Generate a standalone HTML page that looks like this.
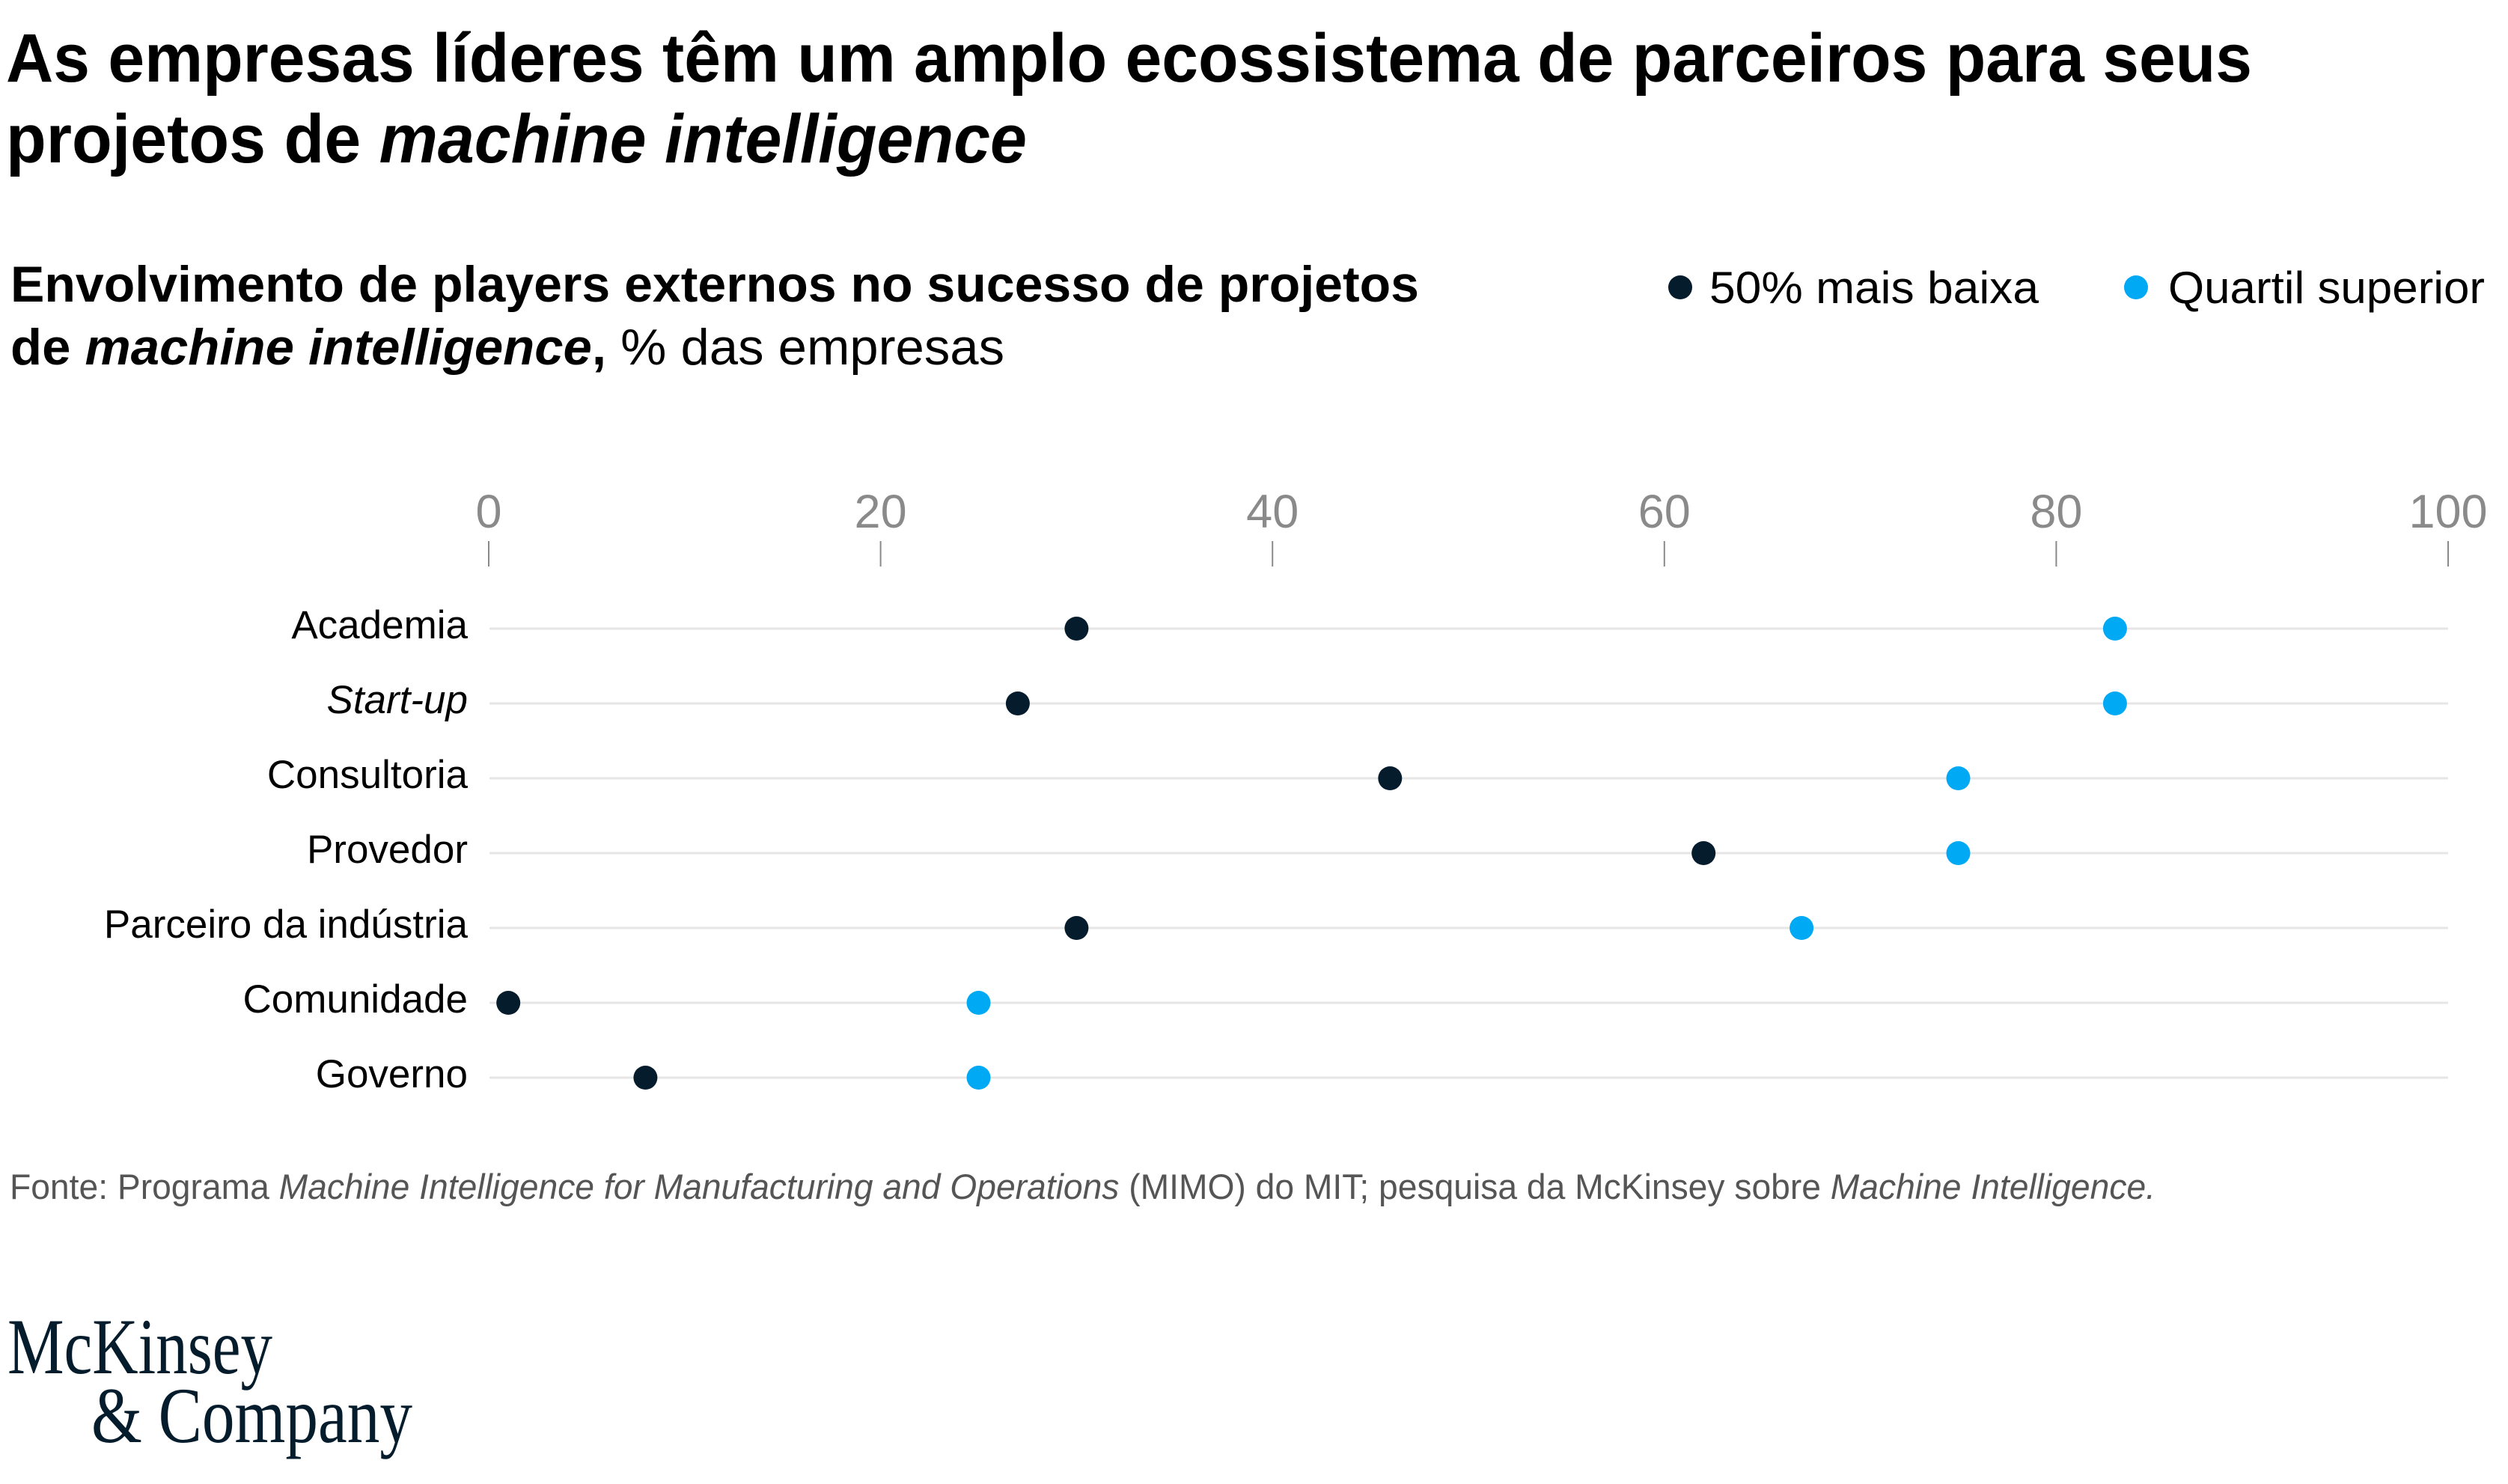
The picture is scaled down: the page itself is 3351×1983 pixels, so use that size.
<!DOCTYPE html>
<html>
<head>
<meta charset="utf-8">
<style>
  html, body { margin: 0; padding: 0; background: #ffffff; }
  svg { display: block; }
  text { font-family: "Liberation Sans", Arial, sans-serif; }
</style>
</head>
<body>
<svg xmlns="http://www.w3.org/2000/svg" width="3351" height="1983" viewBox="0 0 3351 1983">
  <rect x="0" y="0" width="3351" height="1983" fill="#ffffff"/>

  <!-- Title -->
  <text x="8" y="109" font-size="92" font-weight="bold" fill="#000" textLength="3001" lengthAdjust="spacingAndGlyphs">As empresas líderes têm um amplo ecossistema de parceiros para seus</text>
  <text x="8" y="217" font-size="92" font-weight="bold" fill="#000" textLength="1364" lengthAdjust="spacingAndGlyphs">projetos de <tspan font-style="italic">machine intelligence</tspan></text>

  <!-- Subtitle -->
  <text x="14" y="403" font-size="68" font-weight="bold" fill="#000" textLength="1882" lengthAdjust="spacingAndGlyphs">Envolvimento de players externos no sucesso de projetos</text>
  <text x="14" y="487" font-size="68" fill="#000" textLength="1328" lengthAdjust="spacingAndGlyphs"><tspan font-weight="bold">de </tspan><tspan font-weight="bold" font-style="italic">machine intelligence</tspan><tspan font-weight="bold">,</tspan> % das empresas</text>

  <!-- Legend -->
  <circle cx="2245" cy="384" r="16" fill="#051c2c"/>
  <text x="2284" y="405" font-size="60" fill="#000" textLength="440" lengthAdjust="spacingAndGlyphs">50% mais baixa</text>
  <circle cx="2854" cy="384" r="16" fill="#00a9f4"/>
  <text x="2897" y="405" font-size="60" fill="#000" textLength="423" lengthAdjust="spacingAndGlyphs">Quartil superior</text>

  <!-- Axis tick labels -->
  <g font-size="63" fill="#8a8a8a" text-anchor="middle">
    <text x="653" y="705">0</text>
    <text x="1176.6" y="705">20</text>
    <text x="1700.2" y="705">40</text>
    <text x="1723.8" y="705" fill="none"></text>
    <text x="2223.8" y="705">60</text>
    <text x="2747.4" y="705">80</text>
    <text x="3271" y="705">100</text>
  </g>
  <g stroke="#8a8a8a" stroke-width="2">
    <line x1="653" y1="723" x2="653" y2="757"/>
    <line x1="1176.6" y1="723" x2="1176.6" y2="757"/>
    <line x1="1700.2" y1="723" x2="1700.2" y2="757"/>
    <line x1="2223.8" y1="723" x2="2223.8" y2="757"/>
    <line x1="2747.4" y1="723" x2="2747.4" y2="757"/>
    <line x1="3271" y1="723" x2="3271" y2="757"/>
  </g>

  <!-- Grid lines -->
  <g stroke="#e6e6e6" stroke-width="3">
    <line x1="654" y1="840" x2="3271" y2="840"/>
    <line x1="654" y1="940" x2="3271" y2="940"/>
    <line x1="654" y1="1040" x2="3271" y2="1040"/>
    <line x1="654" y1="1140" x2="3271" y2="1140"/>
    <line x1="654" y1="1240" x2="3271" y2="1240"/>
    <line x1="654" y1="1340" x2="3271" y2="1340"/>
    <line x1="654" y1="1440" x2="3271" y2="1440"/>
  </g>

  <!-- Row labels -->
  <g font-size="53" fill="#000" text-anchor="end">
    <text x="625" y="853">Academia</text>
    <text x="625" y="953" font-style="italic">Start-up</text>
    <text x="625" y="1053">Consultoria</text>
    <text x="625" y="1153">Provedor</text>
    <text x="625" y="1253">Parceiro da indústria</text>
    <text x="625" y="1353">Comunidade</text>
    <text x="625" y="1453">Governo</text>
  </g>

  <!-- Dots: 50% mais baixa -->
  <g fill="#051c2c">
    <circle cx="1438.4" cy="840" r="16"/>
    <circle cx="1359.9" cy="940" r="16"/>
    <circle cx="1857.3" cy="1040" r="16"/>
    <circle cx="2276.2" cy="1140" r="16"/>
    <circle cx="1438.4" cy="1240" r="16"/>
    <circle cx="679.2" cy="1340" r="16"/>
    <circle cx="862.4" cy="1440" r="16"/>
  </g>
  <!-- Dots: Quartil superior -->
  <g fill="#00a9f4">
    <circle cx="2825.9" cy="840" r="16"/>
    <circle cx="2825.9" cy="940" r="16"/>
    <circle cx="2616.5" cy="1040" r="16"/>
    <circle cx="2616.5" cy="1140" r="16"/>
    <circle cx="2407.1" cy="1240" r="16"/>
    <circle cx="1307.5" cy="1340" r="16"/>
    <circle cx="1307.5" cy="1440" r="16"/>
  </g>

  <!-- Footnote -->
  <text x="13" y="1602" font-size="47" fill="#555555" textLength="2867" lengthAdjust="spacingAndGlyphs">Fonte: Programa <tspan font-style="italic">Machine Intelligence for Manufacturing and Operations</tspan> (MIMO) do MIT; pesquisa da McKinsey sobre <tspan font-style="italic">Machine Intelligence.</tspan></text>

  <!-- Logo -->
  <text x="10" y="1835" font-family="Liberation Serif, serif" font-size="106" fill="#051c2c" textLength="354" lengthAdjust="spacingAndGlyphs" style="font-family:'Liberation Serif', serif">McKinsey</text>
  <text x="122" y="1927" font-family="Liberation Serif, serif" font-size="106" fill="#051c2c" textLength="429" lengthAdjust="spacingAndGlyphs" style="font-family:'Liberation Serif', serif">&amp; Company</text>
</svg>
</body>
</html>
